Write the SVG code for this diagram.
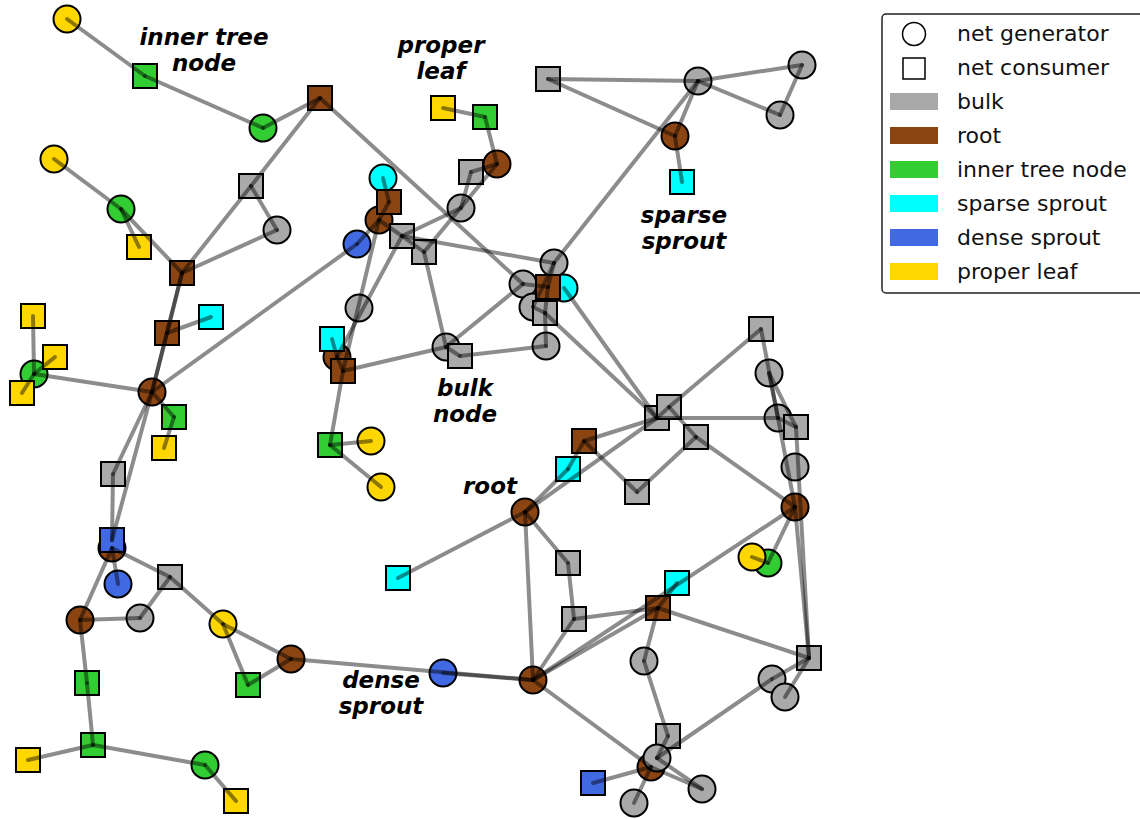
<svg xmlns="http://www.w3.org/2000/svg" width="1140" height="819" viewBox="0 0 1140 819">
<style>
  .nd circle, .nd rect { stroke:#000; stroke-width:2; }
  .gray{fill:#a9a9a9} .brown{fill:#8b4513} .green{fill:#32cd32}
  .cyan{fill:#00ffff} .blue{fill:#4169e1} .yellow{fill:#ffd700}
  #edges line { stroke:#000; stroke-opacity:0.45; stroke-width:4; stroke-linecap:round; }
  .lbl { font-family:"DejaVu Sans",sans-serif; font-weight:bold; font-style:italic; font-size:23px; text-anchor:middle; fill:#000; }
  .leg { font-family:"DejaVu Sans",sans-serif; font-size:22px; fill:#111; }
</style>
<rect width="1140" height="819" fill="#fff"/>

<!-- nodes: circles are net generators, squares are net consumers -->
<g class="nd">
  <g id="n1"><circle class="yellow" cx="67" cy="19" r="13.5"/></g>
  <g id="n2"><rect class="green" x="133" y="64" width="24" height="24"/></g>
  <g id="n3"><circle class="green" cx="263" cy="128" r="13.5"/></g>
  <g id="n4"><rect class="brown" x="308" y="86" width="24" height="24"/></g>
  <g id="n5"><circle class="yellow" cx="54" cy="159" r="13.5"/></g>
  <g id="n6"><circle class="green" cx="121" cy="209" r="13.5"/></g>
  <g id="n7"><rect class="yellow" x="127" y="235" width="24" height="24"/></g>
  <g id="n8"><rect class="gray" x="239" y="174" width="24" height="24"/></g>
  <g id="n9"><circle class="gray" cx="277" cy="230" r="13.5"/></g>
  <g id="n10"><rect class="brown" x="170" y="261" width="24" height="24"/></g>
  <g id="n11"><rect class="brown" x="155" y="321" width="24" height="24"/></g>
  <g id="n12"><rect class="cyan" x="199" y="305" width="24" height="24"/></g>
  <g id="n13"><circle class="brown" cx="152" cy="392" r="13.5"/></g>
  <g id="n14"><circle class="green" cx="34" cy="374" r="13.5"/></g>
  <g id="n15"><rect class="yellow" x="21" y="304" width="24" height="24"/></g>
  <g id="n16"><rect class="yellow" x="43" y="345" width="24" height="24"/></g>
  <g id="n17"><rect class="yellow" x="10" y="381" width="24" height="24"/></g>
  <g id="n18"><rect class="green" x="162" y="405" width="24" height="24"/></g>
  <g id="n19"><rect class="yellow" x="152" y="436" width="24" height="24"/></g>
  <g id="n20"><rect class="gray" x="101" y="462" width="24" height="24"/></g>
  <g id="n22"><circle class="brown" cx="112" cy="548" r="13.5"/></g>
  <g id="n21"><rect class="blue" x="100" y="528" width="24" height="24"/></g>
  <g id="n23"><circle class="blue" cx="118" cy="584" r="13.5"/></g>
  <g id="n24"><rect class="gray" x="158" y="565" width="24" height="24"/></g>
  <g id="n25"><circle class="brown" cx="80" cy="620" r="13.5"/></g>
  <g id="n26"><circle class="gray" cx="140" cy="618" r="13.5"/></g>
  <g id="n27"><circle class="yellow" cx="223" cy="624" r="13.5"/></g>
  <g id="n28"><rect class="green" x="236" y="673" width="24" height="24"/></g>
  <g id="n29"><circle class="brown" cx="291" cy="659" r="13.5"/></g>
  <g id="n30"><rect class="green" x="75" y="671" width="24" height="24"/></g>
  <g id="n31"><rect class="green" x="81" y="733" width="24" height="24"/></g>
  <g id="n32"><rect class="yellow" x="16" y="748" width="24" height="24"/></g>
  <g id="n33"><circle class="green" cx="205" cy="765" r="13.5"/></g>
  <g id="n34"><rect class="yellow" x="224" y="789" width="24" height="24"/></g>

  <g id="n35"><rect class="yellow" x="431" y="96" width="24" height="24"/></g>
  <g id="n36"><rect class="green" x="473" y="105" width="24" height="24"/></g>
  <g id="n38"><rect class="gray" x="459" y="160" width="24" height="24"/></g>
  <g id="n37"><circle class="brown" cx="497" cy="164" r="13.5"/></g>
  <g id="n39"><circle class="gray" cx="461" cy="208" r="13.5"/></g>
  <g id="n40"><circle class="cyan" cx="383" cy="178" r="13.5"/></g>
  <g id="n41"><circle class="brown" cx="379" cy="220" r="13.5"/></g>
  <g id="n42"><rect class="brown" x="377" y="190" width="24" height="24"/></g>
  <g id="n43"><circle class="blue" cx="357" cy="244" r="13.5"/></g>
  <g id="n45"><rect class="gray" x="412" y="240" width="24" height="24"/></g>
  <g id="n44"><rect class="gray" x="390" y="224" width="24" height="24"/></g>
  <g id="n46"><rect class="gray" x="536" y="67" width="24" height="24"/></g>
  <g id="n47"><circle class="gray" cx="698" cy="81" r="13.5"/></g>
  <g id="n48"><circle class="gray" cx="802" cy="65" r="13.5"/></g>
  <g id="n49"><circle class="gray" cx="780" cy="115" r="13.5"/></g>
  <g id="n50"><circle class="brown" cx="675" cy="136" r="13.5"/></g>
  <g id="n51"><rect class="cyan" x="670" y="170" width="24" height="24"/></g>

  <g id="n52"><circle class="gray" cx="554" cy="263" r="13.5"/></g>
  <g id="n53"><circle class="gray" cx="523" cy="284" r="13.5"/></g>
  <g id="n54"><circle class="gray" cx="533" cy="307" r="13.5"/></g>
  <g id="n56"><circle class="cyan" cx="564" cy="288" r="13.5"/></g>
  <g id="n55"><rect class="gray" x="533" y="301" width="24" height="24"/></g>
  <g id="n57"><rect class="brown" x="536" y="275" width="24" height="24"/></g>
  <g id="n58"><circle class="gray" cx="546" cy="346" r="13.5"/></g>
  <g id="n59"><circle class="gray" cx="359" cy="308" r="13.5"/></g>
  <g id="n61"><circle class="brown" cx="337" cy="357" r="13.5"/></g>
  <g id="n60"><rect class="cyan" x="320" y="327" width="24" height="24"/></g>
  <g id="n62"><rect class="brown" x="331" y="359" width="24" height="24"/></g>
  <g id="n63"><circle class="gray" cx="446" cy="347" r="13.5"/></g>
  <g id="n64"><rect class="gray" x="448" y="344" width="24" height="24"/></g>
  <g id="n65"><rect class="green" x="318" y="433" width="24" height="24"/></g>
  <g id="n66"><circle class="yellow" cx="371" cy="441" r="13.5"/></g>
  <g id="n67"><circle class="yellow" cx="381" cy="487" r="13.5"/></g>
  <g id="n68"><circle class="brown" cx="525" cy="512" r="13.5"/></g>

  <g id="n69"><rect class="gray" x="749" y="317" width="24" height="24"/></g>
  <g id="n70"><circle class="gray" cx="769" cy="373" r="13.5"/></g>
  <g id="n72"><rect class="gray" x="645" y="406" width="24" height="24"/></g>
  <g id="n71"><rect class="gray" x="657" y="395" width="24" height="24"/></g>
  <g id="n73"><circle class="gray" cx="778" cy="418" r="13.5"/></g>
  <g id="n74"><rect class="gray" x="784" y="415" width="24" height="24"/></g>
  <g id="n75"><rect class="gray" x="684" y="425" width="24" height="24"/></g>
  <g id="n76"><rect class="brown" x="572" y="429" width="24" height="24"/></g>
  <g id="n77"><rect class="cyan" x="556" y="457" width="24" height="24"/></g>
  <g id="n78"><rect class="gray" x="625" y="480" width="24" height="24"/></g>
  <g id="n79"><circle class="gray" cx="795" cy="467" r="13.5"/></g>
  <g id="n80"><circle class="brown" cx="795" cy="507" r="13.5"/></g>
  <g id="n81"><rect class="cyan" x="386" y="566" width="24" height="24"/></g>
  <g id="n82"><circle class="blue" cx="443" cy="673" r="13.5"/></g>
  <g id="n83"><circle class="brown" cx="533" cy="680" r="13.5"/></g>
  <g id="n84"><rect class="gray" x="556" y="551" width="24" height="24"/></g>
  <g id="n85"><rect class="gray" x="562" y="607" width="24" height="24"/></g>
  <g id="n86"><rect class="cyan" x="665" y="571" width="24" height="24"/></g>
  <g id="n87"><rect class="brown" x="646" y="596" width="24" height="24"/></g>
  <g id="n89"><circle class="green" cx="768" cy="563" r="13.5"/></g>
  <g id="n88"><circle class="yellow" cx="752" cy="557" r="13.5"/></g>
  <g id="n90"><rect class="gray" x="797" y="646" width="24" height="24"/></g>
  <g id="n91"><circle class="gray" cx="644" cy="661" r="13.5"/></g>
  <g id="n92"><circle class="gray" cx="772" cy="679" r="13.5"/></g>
  <g id="n93"><circle class="gray" cx="785" cy="697" r="13.5"/></g>
  <g id="n94"><rect class="gray" x="656" y="724" width="24" height="24"/></g>
  <g id="n95"><circle class="brown" cx="651" cy="767" r="13.5"/></g>
  <g id="n96"><circle class="gray" cx="657" cy="758" r="13.5"/></g>
  <g id="n97"><rect class="blue" x="581" y="771" width="24" height="24"/></g>
  <g id="n98"><circle class="gray" cx="634" cy="803" r="13.5"/></g>
  <g id="n99"><circle class="gray" cx="702" cy="789" r="13.5"/></g>
</g>

<!-- connectors, drawn translucent over the nodes -->
<g id="edges">
  <line x1="67" y1="19" x2="145" y2="76"/>
  <line x1="145" y1="76" x2="263" y2="128"/>
  <line x1="263" y1="128" x2="320" y2="98"/>
  <line x1="320" y1="98" x2="251" y2="186"/>
  <line x1="251" y1="186" x2="277" y2="230"/>
  <line x1="251" y1="186" x2="182" y2="273"/>
  <line x1="277" y1="230" x2="182" y2="273"/>
  <line x1="54" y1="159" x2="121" y2="209"/>
  <line x1="121" y1="209" x2="139" y2="247"/>
  <line x1="121" y1="209" x2="182" y2="273"/>
  <line x1="182" y1="273" x2="167" y2="333"/>
  <line x1="167" y1="333" x2="152" y2="392"/>
  <line x1="182" y1="273" x2="152" y2="392"/>
  <line x1="167" y1="333" x2="211" y2="317"/>
  <line x1="33" y1="316" x2="34" y2="374"/>
  <line x1="55" y1="357" x2="34" y2="374"/>
  <line x1="22" y1="393" x2="34" y2="374"/>
  <line x1="34" y1="374" x2="152" y2="392"/>
  <line x1="152" y1="392" x2="174" y2="417"/>
  <line x1="174" y1="417" x2="164" y2="448"/>
  <line x1="152" y1="392" x2="113" y2="474"/>
  <line x1="113" y1="474" x2="112" y2="540"/>
  <line x1="152" y1="392" x2="112" y2="540"/>
  <line x1="152" y1="392" x2="357" y2="244"/>
  <line x1="112" y1="548" x2="170" y2="577"/>
  <line x1="112" y1="548" x2="118" y2="584"/>
  <line x1="112" y1="548" x2="80" y2="620"/>
  <line x1="80" y1="620" x2="140" y2="618"/>
  <line x1="140" y1="618" x2="170" y2="577"/>
  <line x1="170" y1="577" x2="223" y2="624"/>
  <line x1="223" y1="624" x2="291" y2="659"/>
  <line x1="223" y1="624" x2="248" y2="685"/>
  <line x1="248" y1="685" x2="291" y2="659"/>
  <line x1="80" y1="620" x2="87" y2="683"/>
  <line x1="87" y1="683" x2="93" y2="745"/>
  <line x1="93" y1="745" x2="28" y2="760"/>
  <line x1="93" y1="745" x2="205" y2="765"/>
  <line x1="205" y1="765" x2="236" y2="801"/>
  <line x1="291" y1="659" x2="533" y2="680"/>
  <line x1="443" y1="673" x2="533" y2="680"/>

  <line x1="443" y1="108" x2="485" y2="117"/>
  <line x1="485" y1="117" x2="497" y2="164"/>
  <line x1="497" y1="164" x2="471" y2="172"/>
  <line x1="471" y1="172" x2="461" y2="208"/>
  <line x1="497" y1="164" x2="424" y2="252"/>
  <line x1="461" y1="208" x2="402" y2="236"/>
  <line x1="383" y1="178" x2="389" y2="202"/>
  <line x1="389" y1="202" x2="379" y2="220"/>
  <line x1="379" y1="220" x2="357" y2="244"/>
  <line x1="379" y1="220" x2="402" y2="236"/>
  <line x1="402" y1="236" x2="424" y2="252"/>
  <line x1="402" y1="236" x2="554" y2="263"/>
  <line x1="320" y1="98" x2="523" y2="284"/>
  <line x1="379" y1="220" x2="343" y2="371"/>
  <line x1="402" y1="236" x2="337" y2="357"/>
  <line x1="424" y1="252" x2="446" y2="347"/>
  <line x1="446" y1="347" x2="523" y2="284"/>
  <line x1="446" y1="347" x2="460" y2="356"/>
  <line x1="460" y1="356" x2="546" y2="346"/>
  <line x1="546" y1="346" x2="545" y2="313"/>
  <line x1="343" y1="371" x2="446" y2="347"/>
  <line x1="332" y1="339" x2="337" y2="357"/>
  <line x1="337" y1="357" x2="343" y2="371"/>
  <line x1="343" y1="371" x2="330" y2="445"/>
  <line x1="330" y1="445" x2="371" y2="441"/>
  <line x1="330" y1="445" x2="381" y2="487"/>

  <line x1="548" y1="79" x2="698" y2="81"/>
  <line x1="548" y1="79" x2="675" y2="136"/>
  <line x1="698" y1="81" x2="675" y2="136"/>
  <line x1="698" y1="81" x2="802" y2="65"/>
  <line x1="698" y1="81" x2="780" y2="115"/>
  <line x1="780" y1="115" x2="802" y2="65"/>
  <line x1="675" y1="136" x2="682" y2="182"/>
  <line x1="698" y1="81" x2="554" y2="263"/>

  <line x1="554" y1="263" x2="548" y2="287"/>
  <line x1="548" y1="287" x2="545" y2="313"/>
  <line x1="523" y1="284" x2="548" y2="287"/>
  <line x1="533" y1="307" x2="545" y2="313"/>
  <line x1="554" y1="263" x2="533" y2="307"/>
  <line x1="564" y1="288" x2="657" y2="418"/>
  <line x1="545" y1="313" x2="657" y2="418"/>

  <line x1="657" y1="418" x2="669" y2="407"/>
  <line x1="669" y1="407" x2="761" y2="329"/>
  <line x1="657" y1="418" x2="778" y2="418"/>
  <line x1="778" y1="418" x2="796" y2="427"/>
  <line x1="657" y1="418" x2="584" y2="441"/>
  <line x1="657" y1="418" x2="525" y2="512"/>
  <line x1="568" y1="469" x2="525" y2="512"/>
  <line x1="568" y1="469" x2="584" y2="441"/>
  <line x1="584" y1="441" x2="637" y2="492"/>
  <line x1="637" y1="492" x2="696" y2="437"/>
  <line x1="696" y1="437" x2="669" y2="407"/>
  <line x1="696" y1="437" x2="795" y2="507"/>
  <line x1="761" y1="329" x2="795" y2="507"/>
  <line x1="769" y1="373" x2="778" y2="418"/>
  <line x1="769" y1="373" x2="796" y2="427"/>
  <line x1="796" y1="427" x2="809" y2="658"/>
  <line x1="795" y1="507" x2="809" y2="658"/>

  <line x1="525" y1="512" x2="398" y2="578"/>
  <line x1="525" y1="512" x2="533" y2="680"/>
  <line x1="525" y1="512" x2="568" y2="563"/>
  <line x1="568" y1="563" x2="574" y2="619"/>
  <line x1="574" y1="619" x2="658" y2="608"/>
  <line x1="574" y1="619" x2="533" y2="680"/>
  <line x1="533" y1="680" x2="658" y2="608"/>
  <line x1="677" y1="583" x2="658" y2="608"/>
  <line x1="533" y1="680" x2="795" y2="507"/>
  <line x1="658" y1="608" x2="809" y2="658"/>
  <line x1="658" y1="608" x2="644" y2="661"/>
  <line x1="644" y1="661" x2="668" y2="736"/>
  <line x1="668" y1="736" x2="657" y2="758"/>
  <line x1="657" y1="758" x2="772" y2="679"/>
  <line x1="772" y1="679" x2="809" y2="658"/>
  <line x1="785" y1="697" x2="809" y2="658"/>
  <line x1="533" y1="680" x2="651" y2="767"/>
  <line x1="651" y1="767" x2="593" y2="783"/>
  <line x1="651" y1="767" x2="634" y2="803"/>
  <line x1="651" y1="767" x2="702" y2="789"/>
  <line x1="657" y1="758" x2="702" y2="789"/>
  <line x1="768" y1="563" x2="752" y2="557"/>
  <line x1="768" y1="563" x2="795" y2="507"/>
</g>

<!-- annotations -->
<g id="labels">
  <text class="lbl" x="204" y="45">inner tree</text>
  <text class="lbl" x="204" y="71">node</text>
  <text class="lbl" x="441" y="53">proper</text>
  <text class="lbl" x="441" y="79">leaf</text>
  <text class="lbl" x="684" y="223">sparse</text>
  <text class="lbl" x="684" y="249">sprout</text>
  <text class="lbl" x="465" y="396">bulk</text>
  <text class="lbl" x="465" y="422">node</text>
  <text class="lbl" x="490" y="494">root</text>
  <text class="lbl" x="381" y="688">dense</text>
  <text class="lbl" x="381" y="714">sprout</text>
</g>

<!-- legend -->
<g id="legend">
  <rect x="882" y="14" width="270" height="279" rx="4" fill="#fff" stroke="#222" stroke-width="1.5"/>
  <circle cx="914" cy="34" r="11.5" fill="none" stroke="#000" stroke-width="1.5"/>
  <rect x="903" y="58" width="22" height="21" fill="none" stroke="#000" stroke-width="1.5"/>
  <rect class="gray" x="890" y="93" width="48" height="17"/>
  <rect class="brown" x="890" y="127" width="48" height="17"/>
  <rect class="green" x="890" y="161" width="48" height="17"/>
  <rect class="cyan" x="890" y="195" width="48" height="17"/>
  <rect class="blue" x="890" y="229" width="48" height="17"/>
  <rect class="yellow" x="890" y="263" width="48" height="17"/>
  <text class="leg" x="957" y="41">net generator</text>
  <text class="leg" x="957" y="75">net consumer</text>
  <text class="leg" x="957" y="109">bulk</text>
  <text class="leg" x="957" y="143">root</text>
  <text class="leg" x="957" y="177">inner tree node</text>
  <text class="leg" x="957" y="211">sparse sprout</text>
  <text class="leg" x="957" y="245">dense sprout</text>
  <text class="leg" x="957" y="279">proper leaf</text>
</g>
</svg>
